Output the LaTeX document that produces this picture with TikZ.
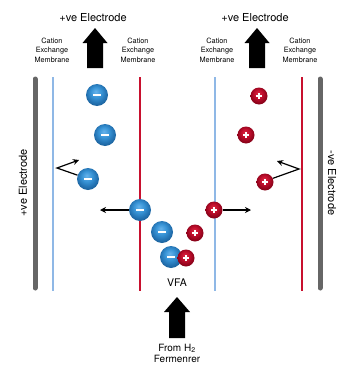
\documentclass[tikz,border=0pt]{standalone}
\usepackage{fontspec}
\setmainfont{TeX Gyre Heros}
\usetikzlibrary{arrows.meta}
\definecolor{memred}{HTML}{C8102E}
\definecolor{memblue}{HTML}{8FB8E6}
\definecolor{elgray}{HTML}{666666}
\pgfdeclareradialshading{anionball}{\pgfpoint{-3bp}{8bp}}{%
  rgb(0bp)=(0.40,0.70,0.92); rgb(12bp)=(0.22,0.58,0.84); rgb(22bp)=(0.14,0.45,0.70); rgb(30bp)=(0.10,0.36,0.58); rgb(50bp)=(0.10,0.36,0.58)}
\pgfdeclareradialshading{cationball}{\pgfpoint{-3bp}{8bp}}{%
  rgb(0bp)=(0.86,0.16,0.26); rgb(12bp)=(0.76,0.06,0.18); rgb(22bp)=(0.60,0.02,0.12); rgb(30bp)=(0.48,0.0,0.08); rgb(50bp)=(0.48,0.0,0.08)}
\tikzset{
  anion/.style={circle, inner sep=0pt, minimum size=22pt, shading=anionball,
    path picture={\draw[white, line width=1.7pt]
      ([xshift=-3.6pt]path picture bounding box.center) -- ([xshift=3.6pt]path picture bounding box.center);}},
  cation/.style={circle, inner sep=0pt, minimum size=17pt, shading=cationball,
    path picture={\draw[white, line width=1.5pt]
      ([xshift=-3.2pt]path picture bounding box.center) -- ([xshift=3.2pt]path picture bounding box.center)
      ([yshift=-3.2pt]path picture bounding box.center) -- ([yshift=3.2pt]path picture bounding box.center);}},
  electrode/.style={line width=5pt, line cap=round, draw=elgray},
  memb/.style={line width=1.2pt},
  motion/.style={line width=1.2pt, -{Stealth[length=6pt,width=6pt]}},
  memlabel/.style={align=center, font=\fontsize{7.3}{9.5}\selectfont},
  bigtext/.style={font=\fontsize{11}{13}\selectfont},
  blockarrow/.style={fill=black}
}
\begin{document}
\begin{tikzpicture}[x=1pt,y=-1pt]
\useasboundingbox (0,0) rectangle (339,367);
% electrodes
\draw[electrode] (35,79) -- (35,288);
\draw[electrode] (320,79) -- (320,288);
% membranes
\draw[memb, draw=memblue] (53,77) -- (53,291);
\draw[memb, draw=memred] (140,77) -- (140,291);
\draw[memb, draw=memblue] (215,77) -- (215,291);
\draw[memb, draw=memred] (302,77) -- (302,291);
% top labels
\node[bigtext] (tl) at (93,18) {+ve Electrode};
\node[bigtext] (tr) at (255,18) {+ve Electrode};
\node[memlabel] (m1) at (52,50) {Cation\\Exchange\\Membrane};
\node[memlabel] (m2) at (138,50) {Cation\\Exchange\\Membrane};
\node[memlabel] (m3) at (217,50) {Cation\\Exchange\\Membrane};
\node[memlabel] (m4) at (300,50) {Cation\\Exchange\\Membrane};
% side labels
\node[bigtext, rotate=90] (sl) at (23,183) {+ve Electrode};
\node[bigtext, rotate=-90] (sr) at (332,183) {-ve Electrode};
% block arrows
\fill[blockarrow] (95,28) -- (107.5,43) -- (103,43) -- (103,68) -- (87,68) -- (87,43) -- (82.5,43) -- cycle;
\fill[blockarrow] (257,28) -- (269.5,43) -- (265,43) -- (265,68) -- (249,68) -- (249,43) -- (244.5,43) -- cycle;
\fill[blockarrow] (177,297) -- (190,312) -- (185,312) -- (185,338) -- (169,338) -- (169,312) -- (164,312) -- cycle;
% bottom labels
\node[font=\fontsize{10.5}{12}\selectfont] (vfa) at (177,283) {VFA};
\node[align=center, font=\fontsize{10}{11}\selectfont] (from) at (177,353) {From H\textsubscript{2}\\Fermenrer};
% anions
\node[anion] (a1) at (97,95) {};
\node[anion] (a2) at (105,135) {};
\node[anion] (a3) at (88,179) {};
\node[anion] (a4) at (140,210) {};
\node[anion] (a5) at (162,232) {};
\node[anion] (a6) at (171,257) {};
% cations
\node[cation] (c1) at (259,96) {};
\node[cation] (c2) at (246,135) {};
\node[cation] (c3) at (265,182) {};
\node[cation] (c4) at (214,210) {};
\node[cation] (c5) at (195,233) {};
\node[cation] (c6) at (186,258) {};
% motion arrows
\coordinate (la) at (100,210);
\coordinate (ra) at (251,210);
\coordinate (lb) at (57,168);
\coordinate (lt) at (79,160);
\coordinate (rb) at (299,169);
\coordinate (rt) at (277,161);
\draw[motion] (a4.west) -- (la);
\draw[motion] (c4.east) -- (ra);
\draw[motion] (a3.160) -- (lb) -- (lt);
\draw[motion] (c3.25) -- (rb) -- (rt);
\end{tikzpicture}
\end{document}
